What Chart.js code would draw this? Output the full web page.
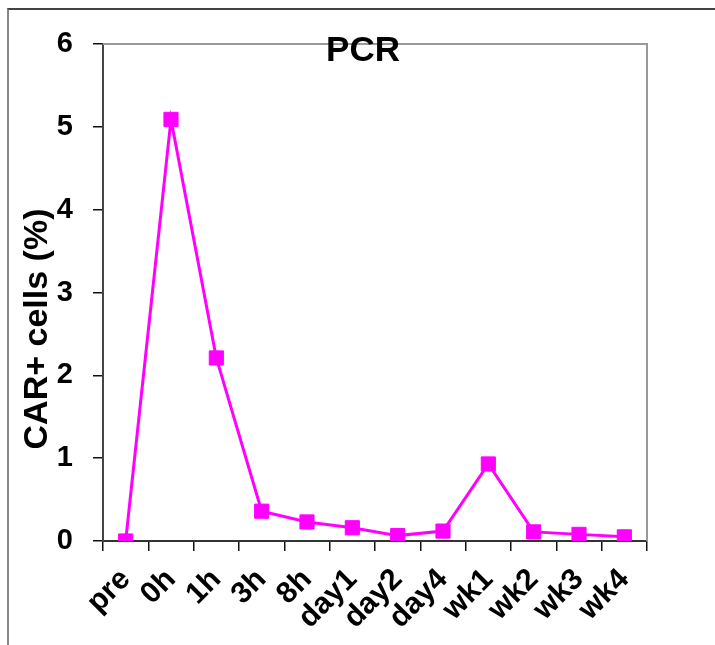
<!DOCTYPE html>
<html>
<head>
<meta charset="utf-8">
<script src="https://cdn.jsdelivr.net/npm/chart.js@4/dist/chart.umd.min.js"></script>
<style>
  html, body { margin: 0; padding: 0; background: #fff; }
  #wrap { position: relative; width: 715px; height: 645px; }
  #frame { position: absolute; left: 7px; top: 8px; right: -2px; bottom: -2px;
           border-top: 2px solid #444; border-left: 2px solid #888; pointer-events: none; }
  canvas { position: absolute; left: 0; top: 0; }
</style>
</head>
<body>
<div id="wrap">
  <canvas id="c" width="715" height="645"></canvas>
  <div id="frame"></div>
</div>
<script>
const categories = ["pre", "0h", "1h", "3h", "8h", "day1", "day2", "day4", "wk1", "wk2", "wk3", "wk4"];
const carValues = [0, 5.09, 2.21, 0.36, 0.23, 0.16, 0.065, 0.12, 0.93, 0.11, 0.08, 0.05];
const yTicks = [0, 1, 2, 3, 4, 5, 6];
const chartTitle = "PCR";
const yTitle = "CAR+ cells (%)";

const FONT = "'Liberation Sans', Arial, sans-serif";

const overlay = {
  id: 'overlay',
  beforeDatasetsDraw(chart) {
    const { ctx, chartArea: a } = chart;
    ctx.save();
    ctx.strokeStyle = '#999';
    ctx.lineWidth = 2;
    ctx.beginPath();
    ctx.moveTo(a.left, a.top);
    ctx.lineTo(a.right, a.top);
    ctx.lineTo(a.right, a.bottom);
    ctx.stroke();
    ctx.restore();
  },
  afterDraw(chart) {
    const { ctx, chartArea: a } = chart;
    ctx.save();
    ctx.fillStyle = '#000';
    ctx.font = "bold 35px " + FONT;
    ctx.textAlign = 'center';
    ctx.textBaseline = 'middle';
    ctx.fillText(chartTitle, (a.left + a.right) / 2 - 12, a.top + 7);
    ctx.translate(38, a.bottom - 212);
    ctx.rotate(-Math.PI / 2);
    ctx.font = "bold 34px " + FONT;
    ctx.fillText(yTitle, 0, 0);
    ctx.restore();
  }
};

new Chart(document.getElementById('c'), {
  type: 'line',
  data: {
    labels: categories,
    datasets: [{
      data: carValues,
      borderColor: '#FF00FF',
      backgroundColor: '#FF00FF',
      borderWidth: 3,
      pointStyle: 'rect',
      pointRadius: 10,
      pointBorderWidth: 1,
      pointBorderColor: '#FF00FF',
      pointBackgroundColor: '#FF00FF',
      tension: 0,
      fill: false
    }]
  },
  options: {
    responsive: false,
    animation: false,
    layout: { padding: { left: 0, right: 68, top: 44, bottom: 0 } },
    plugins: { legend: { display: false }, title: { display: false }, tooltip: { enabled: false } },
    scales: {
      x: {
        type: 'category',
        offset: true,
        grid: { offset: true, drawOnChartArea: false, drawTicks: true, tickLength: 10, color: '#111', lineWidth: 1.5 },
        border: { display: true, color: '#333', width: 2 },
        ticks: { color: '#000', font: { family: FONT, size: 30, weight: 'bold' }, maxRotation: 45, minRotation: 45, padding: 11, autoSkip: false },
        afterFit(s) { s.height = 104; }
      },
      y: {
        min: 0, max: 6,
        afterBuildTicks(s) { s.ticks = yTicks.map(v => ({ value: v })); },
        grid: { drawOnChartArea: false, drawTicks: true, tickLength: 10, color: '#111', lineWidth: 1.5 },
        border: { display: true, color: '#444', width: 2 },
        ticks: { color: '#000', font: { family: FONT, size: 29, weight: 'bold' }, padding: 20 },
        afterFit(s) { s.width = 103; }
      }
    }
  },
  plugins: [overlay]
});
</script>
</body>
</html>
